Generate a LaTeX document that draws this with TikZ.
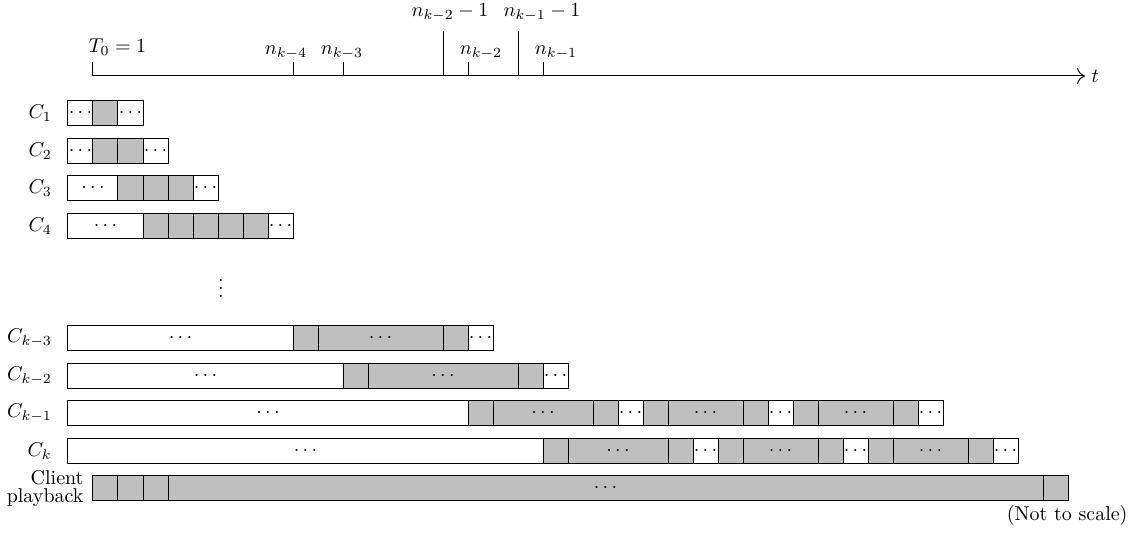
\documentclass[tikz,border=0pt]{standalone}
\usetikzlibrary{arrows.meta}
\begin{document}
\begin{tikzpicture}[x=12.5pt,y=12.5pt,line width=0.5pt]
        \useasboundingbox (-3.72,-18.28) rectangle (41.68,3.04);

        \tikzset{gcell/.style={draw, fill=black!25},
                 wcell/.style={draw, fill=white}}

        % time axis
        \coordinate (T0) at (0,0);
        \coordinate (tend) at (39.68,0);
        \draw[-{To[length=4pt,width=8pt]}] (T0) -- (tend);
        \node[anchor=west, inner sep=3pt] (t) at (tend) {$t$};

        \foreach \x/\h in {0/0.56, 8/0.56, 10/0.56, 14/1.8, 15/0.56, 17/1.8, 18/0.56}
          \draw (\x,0) -- (\x,\h);

        \begin{scope}[every node/.style={anchor=base}]
          \node[anchor=base west] (T0l) at (-0.45,0.93) {$T_0 = 1$};
          \node (nk4)  at (7.72,0.86)  {$n_{k-4}$};
          \node (nk3)  at (9.96,0.86)  {$n_{k-3}$};
          \node (nk2)  at (15.52,0.86) {$n_{k-2}$};
          \node (nk1)  at (18.52,0.86) {$n_{k-1}$};
          \node (nk2m) at (14.28,2.36) {$n_{k-2} - 1$};
          \node (nk1m) at (17.96,2.36) {$n_{k-1} - 1$};
        \end{scope}

        % channels
        \foreach \y/\cells in {
            -1.5/{-1/0/wcell/$\cdots$, 0/1/gcell/{}, 1/2/wcell/$\cdots$},
            -3/{-1/0/wcell/$\cdots$, 0/1/gcell/{}, 1/2/gcell/{}, 2/3/wcell/$\cdots$},
            -4.5/{-1/1/wcell/$\cdots$, 1/2/gcell/{}, 2/3/gcell/{}, 3/4/gcell/{}, 4/5/wcell/$\cdots$},
            -6/{-1/2/wcell/$\cdots$, 2/3/gcell/{}, 3/4/gcell/{}, 4/5/gcell/{}, 5/6/gcell/{}, 6/7/gcell/{}, 7/8/wcell/$\cdots$},
            -10.5/{-1/8/wcell/$\cdots$, 8/9/gcell/{}, 9/14/gcell/$\cdots$, 14/15/gcell/{}, 15/16/wcell/$\cdots$},
            -12/{-1/10/wcell/$\cdots$, 10/11/gcell/{}, 11/17/gcell/$\cdots$, 17/18/gcell/{}, 18/19/wcell/$\cdots$},
            -13.5/{-1/15/wcell/$\cdots$, 15/16/gcell/{}, 16/20/gcell/$\cdots$, 20/21/gcell/{}, 21/22/wcell/$\cdots$,
                   22/23/gcell/{}, 23/26/gcell/$\cdots$, 26/27/gcell/{}, 27/28/wcell/$\cdots$,
                   28/29/gcell/{}, 29/32/gcell/$\cdots$, 32/33/gcell/{}, 33/34/wcell/$\cdots$},
            -15/{-1/18/wcell/$\cdots$, 18/19/gcell/{}, 19/23/gcell/$\cdots$, 23/24/gcell/{}, 24/25/wcell/$\cdots$,
                 25/26/gcell/{}, 26/29/gcell/$\cdots$, 29/30/gcell/{}, 30/31/wcell/$\cdots$,
                 31/32/gcell/{}, 32/35/gcell/$\cdots$, 35/36/gcell/{}, 36/37/wcell/$\cdots$},
            -16.5/{0/1/gcell/{}, 1/2/gcell/{}, 2/3/gcell/{}, 3/38/gcell/$\cdots$, 38/39/gcell/{}}}
          \foreach \a/\b/\s/\d in \cells {
            \draw[\s] (\a,\y-0.5) rectangle (\b,\y+0.5);
            \node[inner sep=0pt] at ({(\a+\b)/2},\y) {\d};
          }

        \begin{scope}[every node/.style={anchor=east}]
          \node (c1)  at (-1.36,-1.5)  {$C_1$};
          \node (c2)  at (-1.36,-3)    {$C_2$};
          \node (c3)  at (-1.36,-4.5)  {$C_3$};
          \node (c4)  at (-1.36,-6)    {$C_4$};
          \node (ck3) at (-1.36,-10.5) {$C_{k-3}$};
          \node (ck2) at (-1.36,-12)   {$C_{k-2}$};
          \node (ck1) at (-1.36,-13.5) {$C_{k-1}$};
          \node (ck)  at (-1.36,-15)   {$C_k$};
          \node[align=right, inner sep=0pt] (play) at (-0.36,-16.5) {Client\\[-3pt]playback};
          \node[inner sep=0pt] (scale) at (41.4,-17.6) {(Not to scale)};
        \end{scope}

        \node (vd) at (5.12,-8.27) {$\vdots$};

      \end{tikzpicture}
\end{document}
